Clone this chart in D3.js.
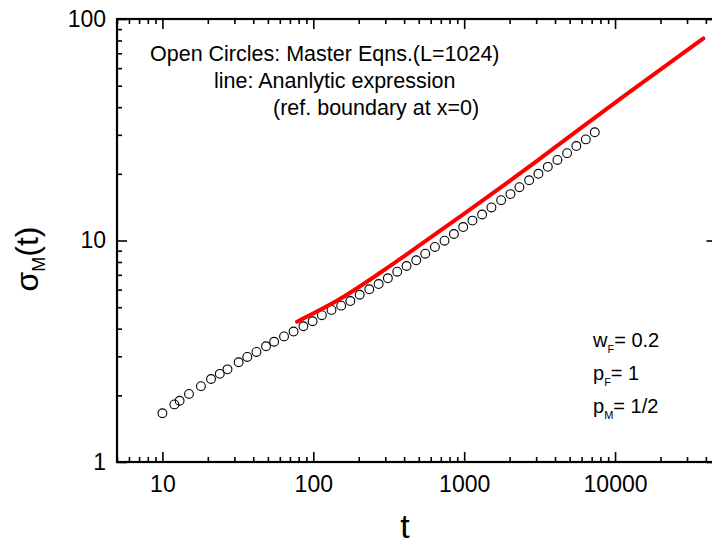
<!DOCTYPE html>
<html>
<head>
<meta charset="utf-8">
<script src="https://cdn.jsdelivr.net/npm/d3@7"></script>
<style>
  html, body { margin: 0; padding: 0; background: #fff; }
  svg { display: block; font-family: "Liberation Sans", Arial, sans-serif; }
</style>
</head>
<body>
<svg id="chart" width="712" height="544"></svg>
<script>
// ---- data ----
const circleT = [10, 12, 13, 15, 18, 21, 24, 27, 32, 36.5, 42, 48.6, 55, 64, 74, 86, 99, 114,
  132, 153, 176, 203, 235, 271, 312, 360, 415, 481, 552, 640, 741, 855, 985, 1135, 1315, 1516,
  1758, 2026, 2324, 2695, 3105, 3584, 4150, 4810, 5540, 6400, 7340];
const circleSigma = [1.66, 1.82, 1.89, 2.03, 2.20, 2.37, 2.50, 2.62, 2.82, 2.98, 3.14, 3.33, 3.49,
  3.69, 3.88, 4.10, 4.32, 4.60, 4.86, 5.08, 5.33, 5.69, 6.02, 6.36, 6.75, 7.23, 7.67, 8.14, 8.72,
  9.35, 9.98, 10.7, 11.5, 12.3, 13.1, 14.1, 15.2, 16.2, 17.4, 18.7, 20.0, 21.5, 23.1, 24.8, 26.7,
  28.6, 30.8];
const lineT = [78, 150, 325, 690, 1280, 2740, 5430, 13900, 38500];
const lineSigma = [4.30, 5.44, 7.70, 11.05, 14.9, 21.7, 30.8, 49.4, 81.8];
const xTickValues = [10, 100, 1000, 10000];
const xTickLabels = ["10", "100", "1000", "10000"];
const yTickValues = [1, 10, 100];
const yTickLabels = ["1", "10", "100"];
const xDomain = [5, 50000];
const yDomain = [1, 100];
const annotationLines = ["Open Circles: Master Eqns.(L=1024)", "line: Ananlytic expression", "(ref. boundary at x=0)"];
const paramMain = ["w", "p", "p"];
const paramSub = ["F", "F", "M"];
const paramValue = ["= 0.2", "= 1", "= 1/2"];

// ---- layout ----
const svg = d3.select("#chart");
const mLeft = 117, mRight = 720.5, mTop = 19, mBottom = 462;
const x = d3.scaleLog().domain(xDomain).range([mLeft, mRight]);
const y = d3.scaleLog().domain(yDomain).range([mBottom, mTop]);

const majorLen = 10, minorLen = 5;
const xMinor = x.ticks().filter(v => !xTickValues.includes(v));
const yMinor = y.ticks().filter(v => !yTickValues.includes(v));

function styleAxis(g) {
  g.select(".domain").remove();
  g.selectAll(".tick line").attr("stroke", "#000").attr("stroke-width", 1.6);
  g.selectAll("text").attr("fill", "#000").style("font-size", "23px");
}

// bottom
svg.append("g").attr("transform", `translate(0,${mBottom})`)
  .call(d3.axisBottom(x).tickValues(xTickValues).tickSize(-majorLen).tickSizeOuter(0)
    .tickPadding(14).tickFormat((d, i) => xTickLabels[i]))
  .call(styleAxis);
svg.append("g").attr("transform", `translate(0,${mBottom})`)
  .call(d3.axisBottom(x).tickValues(xMinor).tickSize(-minorLen).tickSizeOuter(0).tickFormat(""))
  .call(styleAxis);
// top
svg.append("g").attr("transform", `translate(0,${mTop})`)
  .call(d3.axisTop(x).tickValues(xTickValues).tickSize(-majorLen).tickSizeOuter(0).tickFormat(""))
  .call(styleAxis);
svg.append("g").attr("transform", `translate(0,${mTop})`)
  .call(d3.axisTop(x).tickValues(xMinor).tickSize(-minorLen).tickSizeOuter(0).tickFormat(""))
  .call(styleAxis);
// left
svg.append("g").attr("transform", `translate(${mLeft},0)`)
  .call(d3.axisLeft(y).tickValues(yTickValues).tickSize(-majorLen).tickSizeOuter(0)
    .tickPadding(11).tickFormat((d, i) => yTickLabels[i]))
  .call(styleAxis);
svg.append("g").attr("transform", `translate(${mLeft},0)`)
  .call(d3.axisLeft(y).tickValues(yMinor).tickSize(-minorLen).tickSizeOuter(0).tickFormat(""))
  .call(styleAxis);
// right
svg.append("g").attr("transform", `translate(${mRight},0)`)
  .call(d3.axisRight(y).tickValues(yTickValues).tickSize(-majorLen - 4).tickSizeOuter(0).tickFormat(""))
  .call(styleAxis);
svg.append("g").attr("transform", `translate(${mRight},0)`)
  .call(d3.axisRight(y).tickValues(yMinor).tickSize(-minorLen).tickSizeOuter(0).tickFormat(""))
  .call(styleAxis);

// frame
svg.append("rect").attr("x", mLeft).attr("y", mTop)
  .attr("width", mRight - mLeft).attr("height", mBottom - mTop)
  .attr("fill", "none").attr("stroke", "#000").attr("stroke-width", 2.2);

// circles
const pts = circleT.map((t, i) => [t, circleSigma[i]]);
svg.append("g").selectAll("circle").data(pts).join("circle")
  .attr("cx", d => x(d[0])).attr("cy", d => y(d[1])).attr("r", 4.4)
  .attr("fill", "none").attr("stroke", "#000").attr("stroke-width", 1.1);

// analytic line
const lpts = lineT.map((t, i) => [t, lineSigma[i]]);
svg.append("path").datum(lpts)
  .attr("d", d3.line().x(d => x(d[0])).y(d => y(d[1])).curve(d3.curveCatmullRom.alpha(0.5)))
  .attr("fill", "none").attr("stroke", "#ff0000").attr("stroke-width", 4)
  .attr("stroke-linecap", "round");

// annotation (top)
const annX = [150, 214, 273], annY = [61, 88, 115];
annotationLines.forEach((s, i) => {
  svg.append("text").attr("x", annX[i]).attr("y", annY[i])
    .style("font-size", "21.5px").attr("fill", "#000").text(s);
});

// parameters (bottom right)
const parY = [346.5, 379.5, 413];
paramMain.forEach((m, i) => {
  const t = svg.append("text").attr("x", 593).attr("y", parY[i]).style("font-size", "20px").attr("fill", "#000");
  t.append("tspan").text(m);
  t.append("tspan").attr("dy", 6).style("font-size", "11px").text(paramSub[i]);
  t.append("tspan").attr("dy", -6).text(paramValue[i]);
});

// axis titles
svg.append("text").attr("x", 405).attr("y", 538).attr("text-anchor", "middle")
  .style("font-size", "34px").attr("fill", "#000").text("t");

const yt = svg.append("text").attr("transform", "translate(38,259) rotate(-90)")
  .attr("text-anchor", "middle").style("font-size", "32px").attr("fill", "#000");
yt.append("tspan").text("σ");
yt.append("tspan").attr("dy", 7).style("font-size", "18px").text("M");
yt.append("tspan").attr("dy", -7).text("(t)");
</script>
</body>
</html>
